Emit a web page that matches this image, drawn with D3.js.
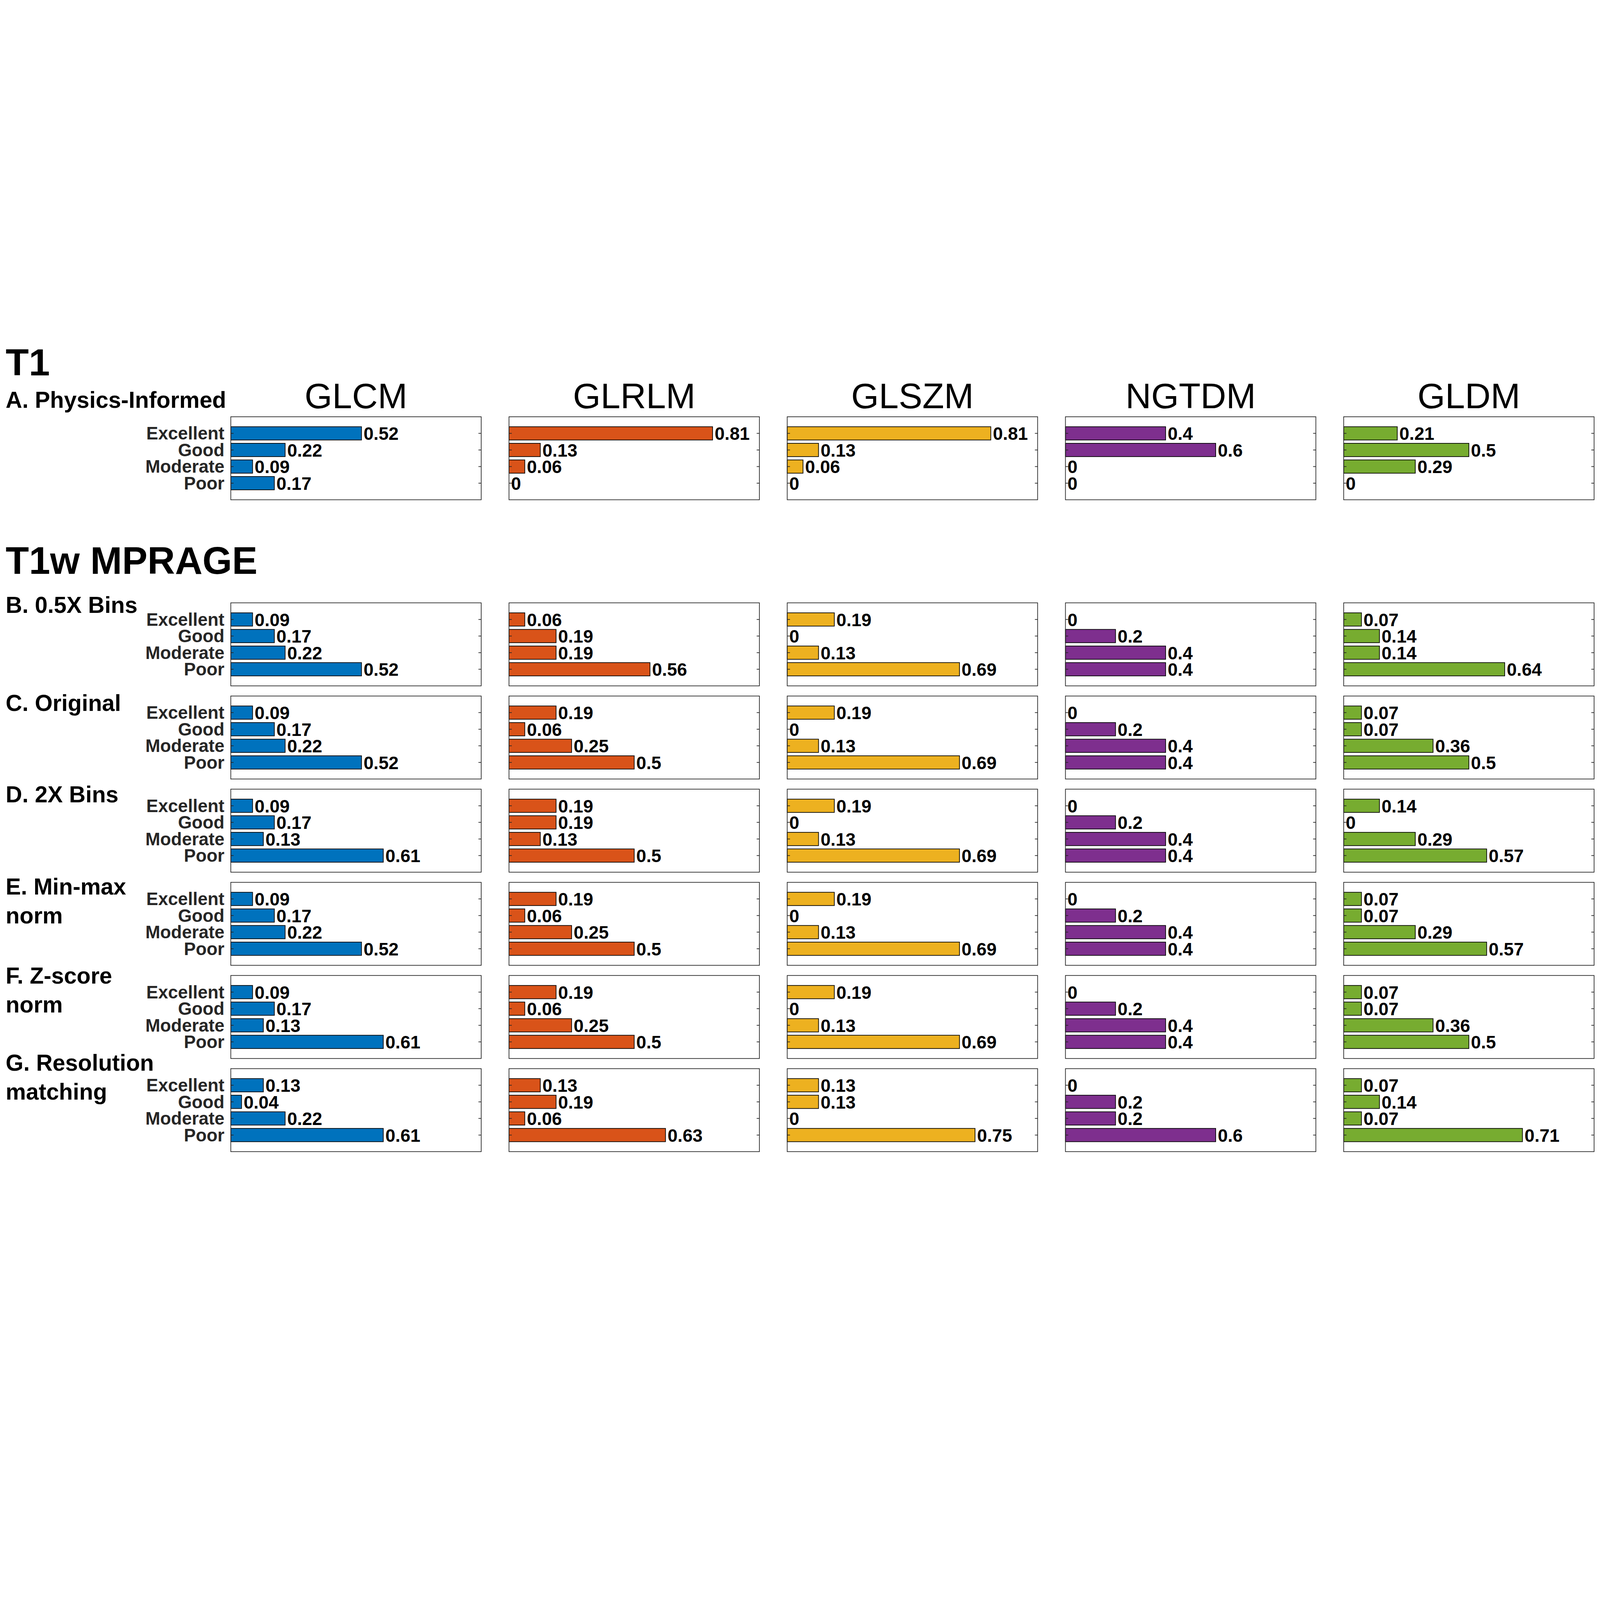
<!DOCTYPE html>
<html>
<head>
<meta charset="utf-8">
<script src="https://cdn.jsdelivr.net/npm/d3@7"></script>
<style>
  html, body { margin: 0; padding: 0; background: #ffffff; width: 100%; height: 100%; overflow: hidden; }
  svg { display: block; width: 100vw; height: 100vh; }
  text { font-family: "Liberation Sans", Arial, Helvetica, sans-serif; }
</style>
</head>
<body>
<svg id="chart" viewBox="0 0 7016 4961" preserveAspectRatio="xMidYMid meet"></svg>
<script>
// ---------------- DATA ----------------
const categories = ["Excellent", "Good", "Moderate", "Poor"];
const features = ["GLCM", "GLRLM", "GLSZM", "NGTDM", "GLDM"];

// each row: one array of 4 values (Excellent, Good, Moderate, Poor) per feature family
const physicsInformed = [
  [0.522, 0.217, 0.087, 0.174],
  [0.813, 0.125, 0.063, 0],
  [0.813, 0.125, 0.063, 0],
  [0.4, 0.6, 0, 0],
  [0.214, 0.5, 0.286, 0]
];
const bins05x = [
  [0.087, 0.174, 0.217, 0.522],
  [0.063, 0.188, 0.188, 0.563],
  [0.188, 0, 0.125, 0.688],
  [0, 0.2, 0.4, 0.4],
  [0.071, 0.143, 0.143, 0.643]
];
const original = [
  [0.087, 0.174, 0.217, 0.522],
  [0.188, 0.063, 0.25, 0.5],
  [0.188, 0, 0.125, 0.688],
  [0, 0.2, 0.4, 0.4],
  [0.071, 0.071, 0.357, 0.5]
];
const bins2x = [
  [0.087, 0.174, 0.130, 0.609],
  [0.188, 0.188, 0.125, 0.5],
  [0.188, 0, 0.125, 0.688],
  [0, 0.2, 0.4, 0.4],
  [0.143, 0, 0.286, 0.571]
];
const minmaxNorm = [
  [0.087, 0.174, 0.217, 0.522],
  [0.188, 0.063, 0.25, 0.5],
  [0.188, 0, 0.125, 0.688],
  [0, 0.2, 0.4, 0.4],
  [0.071, 0.071, 0.286, 0.571]
];
const zscoreNorm = [
  [0.087, 0.174, 0.130, 0.609],
  [0.188, 0.063, 0.25, 0.5],
  [0.188, 0, 0.125, 0.688],
  [0, 0.2, 0.4, 0.4],
  [0.071, 0.071, 0.357, 0.5]
];
const resolutionMatching = [
  [0.130, 0.043, 0.217, 0.609],
  [0.125, 0.188, 0.063, 0.625],
  [0.125, 0.125, 0, 0.75],
  [0, 0.2, 0.2, 0.6],
  [0.071, 0.143, 0.071, 0.714]
];

const rowData = [physicsInformed, bins05x, original, bins2x, minmaxNorm, zscoreNorm, resolutionMatching];
const rowLabels = [
  ["A. Physics-Informed"],
  ["B. 0.5X Bins"],
  ["C. Original"],
  ["D. 2X Bins"],
  ["E. Min-max", "norm"],
  ["F. Z-score", "norm"],
  ["G. Resolution", "matching"]
];
const sectionTitles = ["T1", "T1w MPRAGE"];

// ---------------- STYLE / LAYOUT ----------------
const featureColors = ["#0072BD", "#D95319", "#EDB120", "#7E2F8E", "#77AC30"];
const panelW = 1098, panelH = 364;
const panelLeft0 = 1012, panelStepX = 1220;
const rowTops = [800, 1616, 2024.5, 2433, 2841.5, 3250, 3658.5];
const labelBaselines = [761, 1660, 2090, 2491, 2895, 3286, 3668];
const labelLineGap = 126;
const axisColor = "#262626";

const svg = d3.select("#chart");
svg.append("rect").attr("width", 7016).attr("height", 4961).attr("fill", "#ffffff");

// section titles
svg.append("text").attr("x", 25).attr("y", 618)
  .attr("font-size", 166).attr("font-weight", "bold").attr("fill", "#000")
  .text(sectionTitles[0]);
svg.append("text").attr("x", 25).attr("y", 1488)
  .attr("font-size", 167).attr("font-weight", "bold").attr("fill", "#000")
  .text(sectionTitles[1]);

// column titles
features.forEach((f, j) => {
  svg.append("text")
    .attr("x", panelLeft0 + j * panelStepX + panelW / 2)
    .attr("y", 763)
    .attr("text-anchor", "middle")
    .attr("font-size", 156)
    .attr("fill", "#000")
    .text(f);
});

// row labels
rowLabels.forEach((lines, i) => {
  lines.forEach((ln, k) => {
    svg.append("text")
      .attr("x", 25)
      .attr("y", labelBaselines[i] + k * labelLineGap)
      .attr("font-size", 100)
      .attr("font-weight", "bold")
      .attr("fill", "#000")
      .text(ln);
  });
});

const x = d3.scaleLinear().domain([0, 1]).range([0, panelW]);
const y = d3.scaleBand().domain(categories).range([0, panelH])
  .paddingInner(0.2).paddingOuter(0.6);

const fmt = v => String(+v.toFixed(2));

rowData.forEach((row, i) => {
  row.forEach((vals, j) => {
    const g = svg.append("g")
      .attr("transform", `translate(${panelLeft0 + j * panelStepX},${rowTops[i]})`);

    g.append("rect")
      .attr("x", 0).attr("y", 0).attr("width", panelW).attr("height", panelH)
      .attr("fill", "#ffffff");

    const data = categories.map((c, k) => ({ c, v: vals[k] }));

    g.selectAll("rect.bar").data(data.filter(d => d.v > 0)).join("rect")
      .attr("class", "bar")
      .attr("x", x(0))
      .attr("y", d => y(d.c))
      .attr("width", d => x(d.v) - x(0))
      .attr("height", y.bandwidth())
      .attr("fill", featureColors[j])
      .attr("stroke", "#000")
      .attr("stroke-width", 3);

    g.selectAll("text.val").data(data).join("text")
      .attr("class", "val")
      .attr("x", d => x(d.v) + 9)
      .attr("y", d => y(d.c) + y.bandwidth() / 2)
      .attr("dy", "0.37em")
      .attr("font-size", 79)
      .attr("font-weight", "bold")
      .attr("fill", "#000")
      .text(d => fmt(d.v));

    // left axis with inward ticks; category labels only on the first column
    const leftAxis = d3.axisLeft(y).tickSize(-12).tickPadding(28);
    if (j > 0) leftAxis.tickFormat("");
    const ax = g.append("g").call(leftAxis);
    ax.select(".domain").remove();
    ax.selectAll("line").attr("stroke", axisColor).attr("stroke-width", 3);
    ax.selectAll("text")
      .attr("font-size", 78).attr("font-weight", "bold").attr("fill", axisColor)
      .attr("font-family", '"Liberation Sans", Arial, sans-serif')
      .attr("dy", "0.35em");

    // right inward ticks
    const axr = g.append("g").attr("transform", `translate(${panelW},0)`)
      .call(d3.axisRight(y).tickSize(-12).tickFormat(""));
    axr.select(".domain").remove();
    axr.selectAll("line").attr("stroke", axisColor).attr("stroke-width", 3);

    // box
    g.append("rect")
      .attr("x", 0).attr("y", 0).attr("width", panelW).attr("height", panelH)
      .attr("fill", "none").attr("stroke", axisColor).attr("stroke-width", 3);
  });
});
</script>
</body>
</html>
